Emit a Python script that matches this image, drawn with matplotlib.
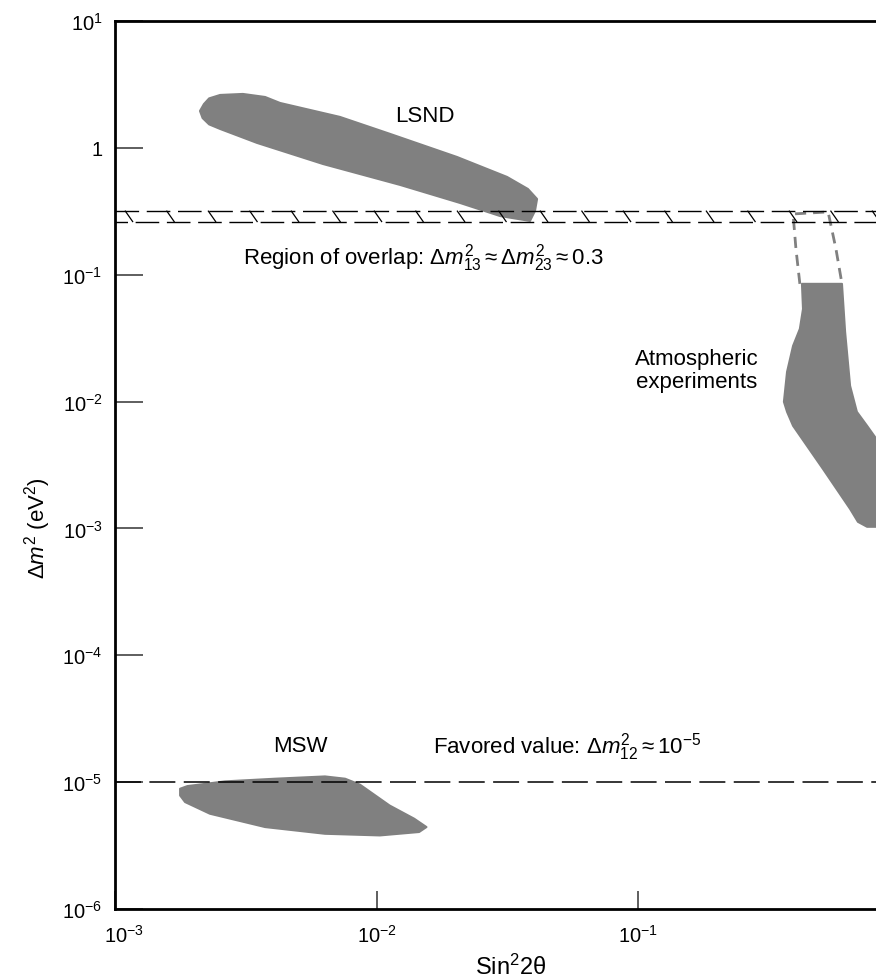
import numpy as np
import matplotlib
matplotlib.use("Agg")
import matplotlib.pyplot as plt
from matplotlib.patches import Polygon
import matplotlib.transforms as mtransforms

plt.rcParams['font.family'] = ['Liberation Sans', 'DejaVu Sans']
plt.rcParams['mathtext.fontset'] = 'custom'
plt.rcParams['mathtext.rm'] = 'Liberation Sans'
plt.rcParams['mathtext.it'] = 'Liberation Sans:italic'
plt.rcParams['mathtext.bf'] = 'Liberation Sans:bold'

# ---------------- data (log10 of sin^2 2theta, log10 of dm^2) ----------------
x_ticks = [1e-3, 1e-2, 1e-1]
x_tick_labels = ['10$^{-3}$', '10$^{-2}$', '10$^{-1}$']
y_ticks = [1e-6, 1e-5, 1e-4, 1e-3, 1e-2, 1e-1, 1, 10]
y_tick_labels = ['10$^{-6}$', '10$^{-5}$', '10$^{-4}$', '10$^{-3}$',
                 '10$^{-2}$', '10$^{-1}$', '1', '10$^{1}$']

lsnd_logx = [-2.675, -2.660, -2.640, -2.598, -2.511, -2.426, -2.369, -2.140,
             -1.948, -1.692, -1.501, -1.421, -1.386, -1.394, -1.413, -1.528,
             -1.681, -1.910, -2.205, -2.457, -2.598, -2.640, -2.665]
lsnd_logy = [0.291, 0.345, 0.390, 0.417, 0.425, 0.401, 0.354, 0.244,
             0.110, -0.072, -0.229, -0.324, -0.403, -0.497, -0.576, -0.537,
             -0.434, -0.292, -0.127, 0.039, 0.149, 0.185, 0.235]

atm_logx = [-0.373, -0.220, -0.208, -0.189, -0.163, -0.124, -0.075, -0.075,
            -0.124, -0.159, -0.189, -0.293, -0.407, -0.430, -0.442, -0.430,
            -0.407, -0.381, -0.369]
atm_logy = [-1.072, -1.072, -1.451, -1.876, -2.081, -2.191, -2.333, -2.987,
            -2.987, -2.948, -2.846, -2.530, -2.191, -2.081, -2.002, -1.766,
            -1.561, -1.427, -1.270]

atm_ext_logx = [-0.381, -0.396, -0.407, -0.273, -0.243, -0.220]
atm_ext_logy = [-1.072, -0.797, -0.521, -0.505, -0.797, -1.072]

msw_logx = [-2.751, -2.723, -2.579, -2.388, -2.197, -2.120, -2.063, -1.950,
            -1.856, -1.809, -1.837, -1.987, -2.197, -2.426, -2.637, -2.732,
            -2.751]
msw_logy = [-5.052, -5.031, -4.994, -4.973, -4.955, -4.973, -5.020, -5.184,
            -5.288, -5.354, -5.393, -5.420, -5.407, -5.354, -5.249, -5.157,
            -5.105]

overlap_band = [0.26, 0.32]
favored_dm2 = 1e-5

# ---------------- figure ----------------
W, H = 876, 979
fig = plt.figure(figsize=(W / 100, H / 100), dpi=100)
ax = fig.add_axes([115 / W, (H - 910) / H, (899.5 - 115) / W, (910 - 22) / H])
ax.set_xscale('log')
ax.set_yscale('log')
ax.set_xlim(1e-3, 1.0)
ax.set_ylim(1e-6, 10)

fill_col = '#808080'


def poly(lx, ly, **kw):
    pts = np.column_stack([10 ** np.asarray(lx), 10 ** np.asarray(ly)])
    p = Polygon(pts, closed=True, **kw)
    ax.add_patch(p)
    return p


poly(lsnd_logx, lsnd_logy, facecolor=fill_col, edgecolor=fill_col, lw=1.5,
     joinstyle='round', zorder=2)
poly(atm_logx, atm_logy, facecolor=fill_col, edgecolor=fill_col, lw=1.5,
     joinstyle='round', zorder=2)
poly(msw_logx, msw_logy, facecolor=fill_col, edgecolor=fill_col, lw=1.5,
     joinstyle='round', zorder=2)

ax.plot(10 ** np.asarray(atm_ext_logx), 10 ** np.asarray(atm_ext_logy),
        color=fill_col, lw=2.0, linestyle=(0, (4, 2.5)), zorder=3)

# overlap band
lo, hi = overlap_band
ax.plot([1e-3, 1.0], [hi, hi], color='black', lw=1.0,
        linestyle=(0, (17, 5.5)), zorder=4)
ax.plot([1e-3, 1.0], [lo, lo], color='black', lw=1.0,
        linestyle=(8, (17, 5.5)), zorder=4)
trans = mtransforms.blended_transform_factory(ax.transAxes, ax.transData)
axw = 899.5 - 115
for xs in np.arange(10 / axw, 1.0, 41.5 / axw):
    ax.plot([xs, xs + 8 / axw], [hi, lo], color='black', lw=0.9,
            transform=trans, zorder=4, solid_capstyle='butt')

# favored value line
ax.plot([1e-3, 1.0], [favored_dm2, favored_dm2], color='black', lw=1.1,
        linestyle=(0, (17, 5.5)), zorder=4)

# ticks
ax.set_xticks(x_ticks)
ax.set_xticklabels(x_tick_labels)
ax.set_yticks(y_ticks)
ax.set_yticklabels(y_tick_labels)
ax.minorticks_off()
ax.tick_params(axis='y', direction='in', length=20, width=1.1, color='#333333',
               labelsize=14.5, pad=9, right=False)
ax.tick_params(axis='x', direction='in', length=13, width=1.1, color='#333333',
               labelsize=14.5, pad=11, top=False)
for s in ['left', 'bottom', 'top', 'right']:
    ax.spines[s].set_linewidth(2.0)

first = ax.get_xticklabels()[0]
first.set_transform(first.get_transform() +
                    mtransforms.ScaledTranslation(9 / 100, 0, fig.dpi_scale_trans))

fs = 16


def ftext(px, py, s, size=fs, **kw):
    fig.text(px / W, 1 - py / H, s, fontsize=size, **kw)


ftext(425, 116, 'LSND', ha='center', va='center')
ftext(243, 258, r'Region of overlap: $\Delta m^2_{13} \approx \Delta m^2_{23} \approx 0.3$',
      ha='left', va='center')
ftext(697, 371, 'Atmospheric\nexperiments', ha='center', va='center', linespacing=1.15)
ftext(300, 747, 'MSW', ha='center', va='center')
ftext(433, 747, r'Favored value: $\Delta m^2_{12} \approx 10^{-5}$', ha='left', va='center')
ftext(38, 528, r'$\Delta m^2$ (eV$^2$)', ha='center', va='center', rotation=90)
ftext(511, 967, r'Sin$^2$2θ', size=17, ha='center', va='center')

fig.savefig('out.png', dpi=100)
